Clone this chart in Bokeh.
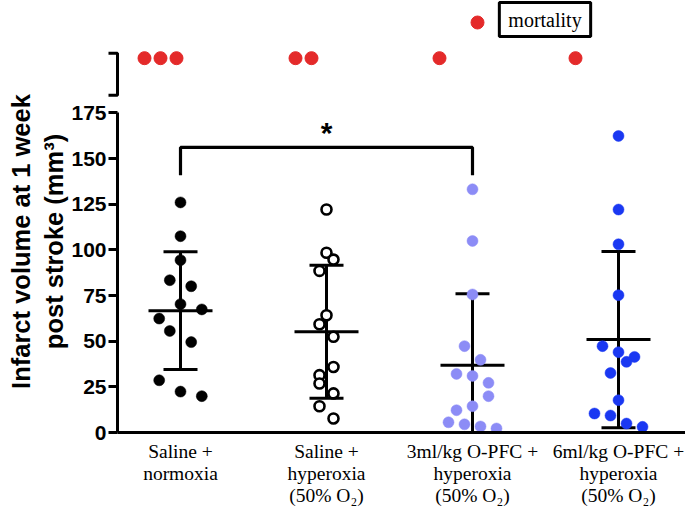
import numpy as np
from bokeh.plotting import figure
from bokeh.layouts import column
from bokeh.models import FixedTicker, Label, Range1d
from bokeh.embed import file_html
from bokeh.resources import INLINE
from bokeh.core.properties import value

# ---------------- data ----------------
group_labels = ["Saline +\nnormoxia",
                "Saline +\nhyperoxia\n(50% O\u2082)",
                "3ml/kg O-PFC +\nhyperoxia\n(50% O\u2082)",
                "6ml/kg O-PFC +\nhyperoxia\n(50% O\u2082)"]
saline_normoxia = [126.0, 107.5, 94.4, 83.4, 80.1, 70.3, 67.4, 62.4, 55.6, 49.5, 28.6, 22.4, 19.9]
saline_hyperoxia = [122.1, 98.4, 94.7, 88.5, 64.2, 59.3, 52.4, 35.9, 31.4, 26.8, 21.4, 14.4, 7.7]
pfc3_hyperoxia = [133.2, 104.9, 75.6, 47.3, 39.8, 32.1, 31.0, 27.2, 19.9, 14.4, 12.2, 5.6, 4.5, 3.3, 2.2]
pfc6_hyperoxia = [162.4, 122.1, 103.1, 75.2, 47.3, 44.0, 41.4, 38.7, 32.6, 17.7, 10.4, 9.3, 4.9, 3.1]
mortality = [3, 2, 1, 1]
y_ticks = [0, 25, 50, 75, 100, 125, 150, 175]

# ---------------- layout (pixels) ----------------
jitter_px = [
    [0, 0, 0, -10.7, 10.7, 0, 21.3, -21.3, -10.7, 10.7, -21.3, 0, 21.3],
    [0, 0, 7, -7, 0, -7, 7, 7, -7, -7, 7, -7, 7],
    [0, 0, 0, -8, 8, -16, 0, 16, 16, 0, -16, -24, -8, 8, 24],
    [0, 0, 0, 0, -16, 0, 16, 8, -8, 0, -24, -8, 8, 24],
]
mort_shift_px = [-20, -23, -33, -43]

W = 685
LEFT = 117
PXX = 146.0          # px per group on x
PXY = 1.826          # px per unit on y
TOP_H = 50
FRAME_H = 382
BOTTOM = 80
x0 = 1 - (180 - LEFT) / PXX
x1 = 1 + (W - 180) / PXX
ytop = FRAME_H / PXY

series = [saline_normoxia, saline_hyperoxia, pfc3_hyperoxia, pfc6_hyperoxia]
colors = ["black", "black", "#8C8CF6", "#1A38F2"]
RED = "#E42A2A"

SANS = "Liberation Sans"
SERIF = "Liberation Serif"

xr = Range1d(x0, x1)

# ---------------- top strip with legend ----------------
top = figure(width=W, height=TOP_H, x_range=xr,
             y_range=Range1d(TOP_H, 0), output_backend="svg", toolbar_location=None,
             min_border_left=LEFT, min_border_right=0, min_border_top=0, min_border_bottom=0)
top.axis.visible = False
top.xgrid.grid_line_color = None
top.ygrid.grid_line_color = None
top.outline_line_color = None
top.scatter([1 + (477 - 180) / PXX], [22], size=13, fill_color=RED, line_color=RED)
lab = Label(x=1 + (544.5 - 180) / PXX, y=19, text="mortality", text_font=SERIF,
            text_font_size="20px", text_align="center", text_baseline="middle",
            text_color="black", border_line_color="black", border_line_width=3,
            background_fill_color="white",
            padding=dict(left=9, right=9, top=6, bottom=6))
top.add_layout(lab)

# ---------------- main plot ----------------
p = figure(width=W, height=FRAME_H + BOTTOM, x_range=xr, y_range=Range1d(0, ytop),
           output_backend="svg", toolbar_location=None,
           min_border_left=LEFT, min_border_right=0, min_border_top=0, min_border_bottom=BOTTOM)
p.outline_line_color = None
p.xgrid.grid_line_color = None
p.ygrid.grid_line_color = None

# y axis
ya = p.yaxis[0]
ya.bounds = (0, 175)
ya.ticker = FixedTicker(ticks=y_ticks)
ya.minor_tick_line_color = None
ya.major_tick_out = 9
ya.major_tick_in = 0
ya.axis_line_width = 3
ya.major_tick_line_width = 3
ya.major_label_text_font = SANS
ya.major_label_text_font_style = "bold"
ya.major_label_text_font_size = "21px"
ya.major_label_text_color = "black"
ya.major_label_standoff = 2
ya.axis_label = "Infarct volume at 1 week\npost stroke (mm\u00b3)"
ya.axis_label_text_font = SANS
ya.axis_label_text_font_style = "bold"
ya.axis_label_text_font_size = "25.5px"
ya.axis_label_text_color = "black"
ya.axis_label_standoff = 0
ya.axis_label_text_line_height = 1.2

# x axis
xa = p.xaxis[0]
xa.ticker = FixedTicker(ticks=[1, 2, 3, 4])
xa.major_label_overrides = {i + 1: lab for i, lab in enumerate(group_labels)}
xa.major_tick_line_color = None
xa.minor_tick_line_color = None
xa.major_tick_out = 0
xa.major_tick_in = 0
xa.axis_line_width = 3
xa.axis_label = None
xa.axis_label_standoff = 0
xa.major_label_text_font = SERIF
xa.major_label_text_font_size = "19.5px"
xa.major_label_text_color = "black"
xa.major_label_text_line_height = 1.06
xa.major_label_standoff = 8

# error bars (mean +/- SD), drawn under the dots
for i, vals in enumerate(series):
    c = i + 1
    arr = np.array(vals)
    m = arr.mean()
    sd = arr.std(ddof=1)
    lo, hi = m - sd, m + sd
    p.segment(x0=[c, c - 32 / PXX, c - 17 / PXX, c - 17 / PXX],
              y0=[lo, m, hi, lo],
              x1=[c, c + 32 / PXX, c + 17 / PXX, c + 17 / PXX],
              y1=[hi, m, hi, lo],
              line_color="black", line_width=3)

# points
for i, vals in enumerate(series):
    c = i + 1
    xs = [c + j / PXX for j in jitter_px[i]]
    if i == 1:
        p.scatter(xs, vals, size=10, fill_color="white", line_color="black", line_width=2.6)
    else:
        p.scatter(xs, vals, size=11, fill_color=colors[i], line_color=colors[i], line_width=0.5)

# significance bracket
yb, yl = 156.1, 140.9
p.line([1, 1, 3, 3], [yl, yb, yb, yl], line_color="black", line_width=3.2)
p.text(x=[2], y=[164.5], text=["*"], text_font=value(SANS), text_font_style="bold",
       text_font_size="30px", text_align="center", text_baseline="alphabetic", text_color="black")

# mortality dots (upper broken segment)
y_mort = 205.0
mx, my = [], []
for i, n in enumerate(mortality):
    c = i + 1 + mort_shift_px[i] / PXX
    for k in range(n):
        mx.append(c + (k - (n - 1) / 2) * 16 / PXX)
        my.append(y_mort)
p.scatter(mx, my, size=13, fill_color=RED, line_color=RED, level="overlay")

# axis break bracket
bt, bb = 207.7, 184.7
p.line([x0 - 9 / PXX, x0, x0, x0 - 9 / PXX], [bt, bt, bb, bb], line_color="black",
       line_width=3, level="overlay")

open("out.html", "w").write(file_html(column(top, p, spacing=0), INLINE))
